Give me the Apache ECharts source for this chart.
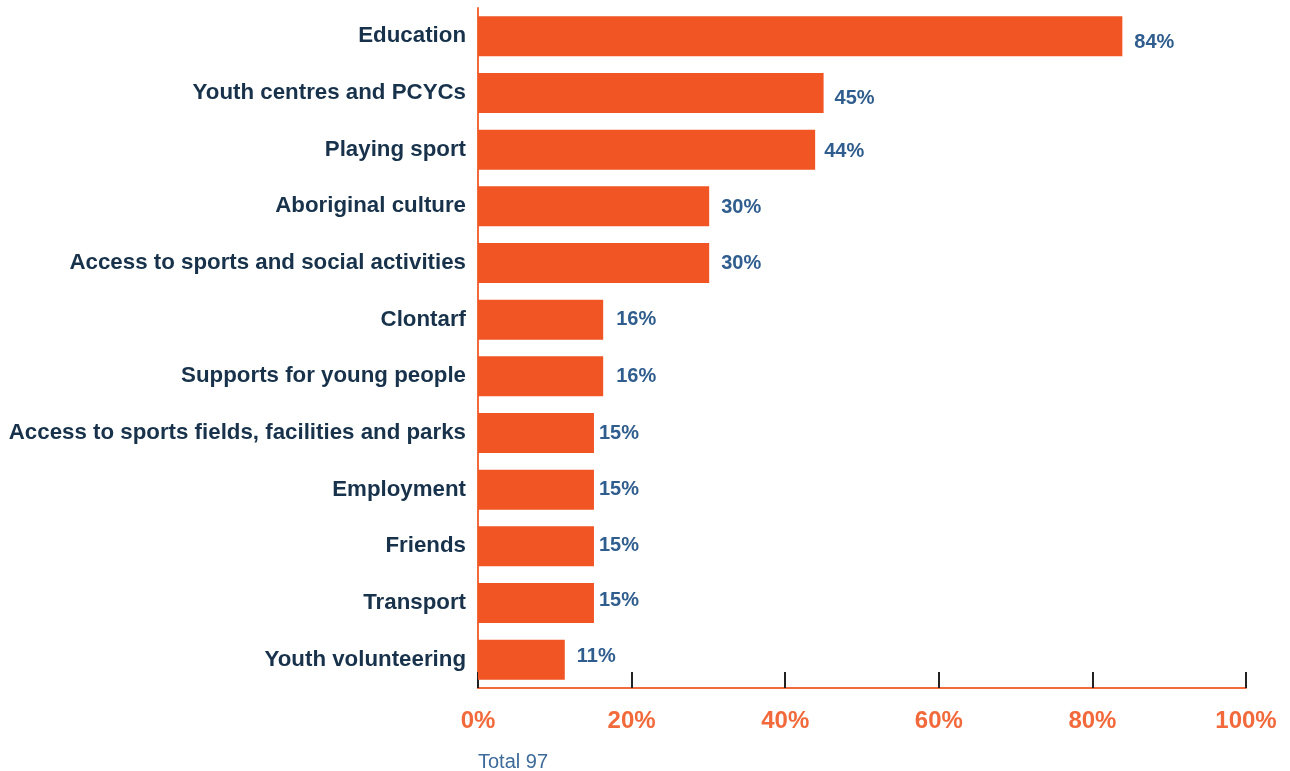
<!DOCTYPE html>
<html>
<head>
<meta charset="utf-8">
<script src="https://cdn.jsdelivr.net/npm/echarts@6/dist/echarts.min.js"></script>
<style>
  html, body { margin: 0; padding: 0; background: #fff; }
  #chart { width: 1290px; height: 771px; }
</style>
</head>
<body>
<div id="chart"></div>
<script>
// categories top to bottom
var categories = [
  'Education',
  'Youth centres and PCYCs',
  'Playing sport',
  'Aboriginal culture',
  'Access to sports and social activities',
  'Clontarf',
  'Supports for young people',
  'Access to sports fields, facilities and parks',
  'Employment',
  'Friends',
  'Transport',
  'Youth volunteering'
]
// share of respondents, %
var values = [83.9, 45, 43.9, 30.1, 30.1, 16.3, 16.3, 15.1, 15.1, 15.1, 15.1, 11.3]
var xTicks = [0, 20, 40, 60, 80, 100]
var total = 97

// label placement quirks of the original (gap from bar end, vertical nudge), px
var labelGap = [12, 11, 9, 12, 12, 13, 13, 5, 5, 5, 5, 12]
var labelNudge = [6, 5, 2, 1, 0, 0, 0, 0, 0, -1, -3, -3]

var chart = echarts.init(document.getElementById('chart'))

var font = '"Liberation Sans", Arial, sans-serif'

var barData = values.map(function (v, i) {
  return {
    value: v,
    label: { distance: labelGap[i], offset: [0, labelNudge[i]] }
  }
})

var option = {
  animation: false,
  textStyle: { fontFamily: font },
  title: {
    text: 'Total ' + total,
    left: 473,
    top: 747,
    textStyle: { color: '#3d6a99', fontSize: 20, fontWeight: 'normal', fontFamily: font }
  },
  grid: {
    left: 478,
    right: 44,
    top: 8,
    bottom: 83,
    containLabel: false
  },
  xAxis: {
    type: 'value',
    min: 0,
    max: 100,
    interval: 20,
    axisLine: { show: true, lineStyle: { color: '#f26a3b', width: 2 } },
    axisTick: { show: true, inside: true, length: 16, lineStyle: { color: '#222', width: 2 } },
    splitLine: { show: false },
    axisLabel: {
      margin: 21,
      color: '#f26a3b',
      fontSize: 24,
      fontWeight: 'bold',
      fontFamily: font,
      formatter: function (v) { return xTicks.indexOf(v) >= 0 ? v + '%' : '' }
    }
  },
  yAxis: {
    type: 'category',
    inverse: true,
    data: categories,
    axisLine: { show: true, lineStyle: { color: '#f26a3b', width: 2 } },
    axisTick: { show: false },
    axisLabel: {
      margin: 12,
      color: '#17324a',
      fontSize: 22.3,
      fontWeight: 'bold',
      fontFamily: font
    }
  },
  series: [{
    type: 'bar',
    data: barData,
    barWidth: 40,
    itemStyle: { color: '#f15524' },
    label: {
      show: true,
      position: 'right',
      color: '#2f5d8e',
      fontSize: 20,
      fontWeight: 'bold',
      fontFamily: font,
      formatter: function (p) { return Math.round(p.value) + '%' }
    }
  }]
}

chart.setOption(option)
</script>
</body>
</html>
